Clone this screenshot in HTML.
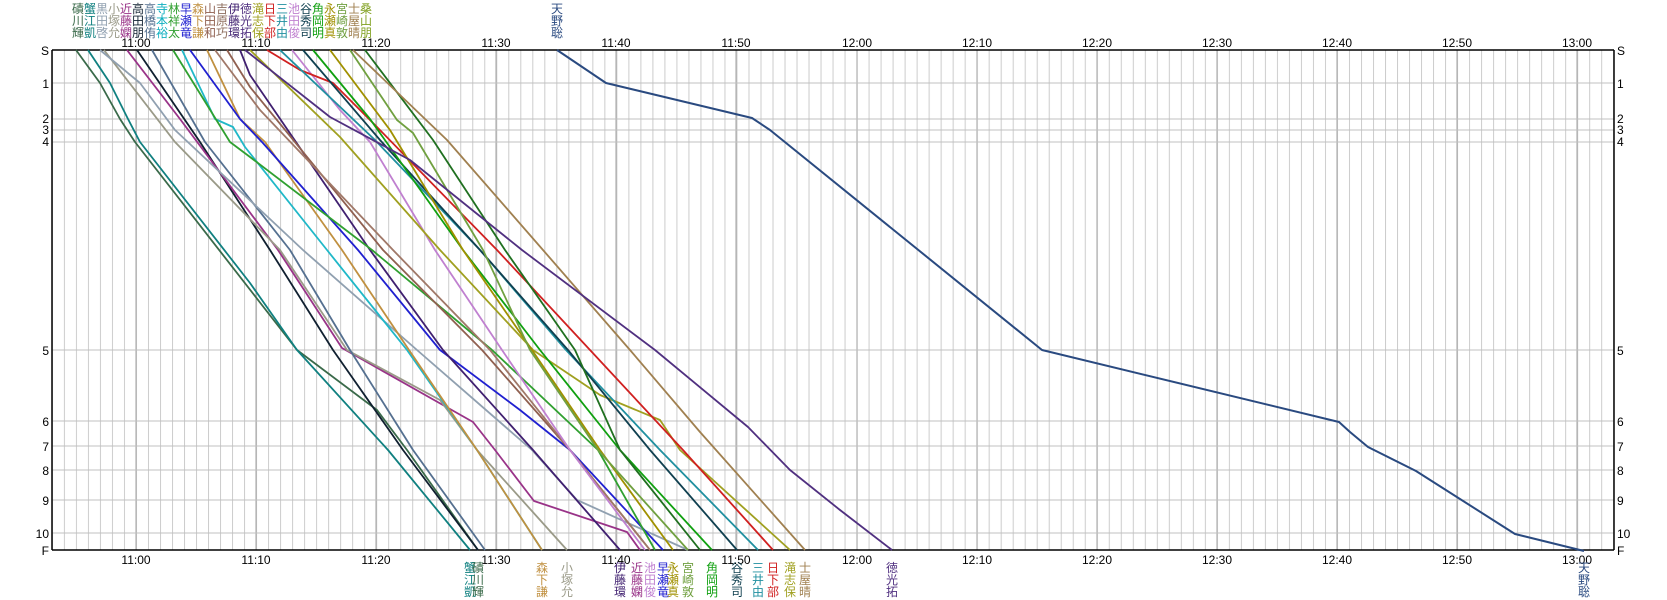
<!DOCTYPE html>
<html><head><meta charset="utf-8"><style>
html,body{margin:0;padding:0;background:#fff;}
svg{display:block;font-family:"Liberation Sans","Noto Sans CJK JP",sans-serif;}
</style></head><body>
<svg width="1667" height="600" viewBox="0 0 1667 600" xmlns="http://www.w3.org/2000/svg">
<defs>
<pattern id="mg" x="51.9" y="0" width="12.01" height="600" patternUnits="userSpaceOnUse">
<line x1="0.5" y1="0" x2="0.5" y2="600" stroke="#cccccc" stroke-width="1"/>
</pattern>
</defs>
<rect x="52" y="50" width="1562" height="500" fill="url(#mg)"/>
<g stroke="#a0a0a0" stroke-width="1">
<line x1="136" y1="50" x2="136" y2="550"/><line x1="256" y1="50" x2="256" y2="550"/><line x1="376" y1="50" x2="376" y2="550"/><line x1="496" y1="50" x2="496" y2="550"/><line x1="616" y1="50" x2="616" y2="550"/><line x1="736" y1="50" x2="736" y2="550"/><line x1="857" y1="50" x2="857" y2="550"/><line x1="977" y1="50" x2="977" y2="550"/><line x1="1097" y1="50" x2="1097" y2="550"/><line x1="1217" y1="50" x2="1217" y2="550"/><line x1="1337" y1="50" x2="1337" y2="550"/><line x1="1457" y1="50" x2="1457" y2="550"/><line x1="1577" y1="50" x2="1577" y2="550"/>
</g>
<g stroke="#c0c0c0" stroke-width="1">
<line x1="52" y1="83" x2="1614" y2="83"/><line x1="52" y1="119" x2="1614" y2="119"/><line x1="52" y1="130" x2="1614" y2="130"/><line x1="52" y1="142" x2="1614" y2="142"/><line x1="52" y1="350" x2="1614" y2="350"/><line x1="52" y1="421" x2="1614" y2="421"/><line x1="52" y1="446" x2="1614" y2="446"/><line x1="52" y1="470" x2="1614" y2="470"/><line x1="52" y1="500" x2="1614" y2="500"/><line x1="52" y1="533" x2="1614" y2="533"/>
</g>
<g stroke="#000" stroke-width="1.5" fill="none">
<line x1="52" y1="50" x2="1614" y2="50"/><line x1="52" y1="550" x2="1614" y2="550"/>
<line x1="52" y1="50" x2="52" y2="550"/><line x1="1614" y1="50" x2="1614" y2="550"/>
</g>
<g font-size="12" fill="#000" text-anchor="end">
<text x="49" y="55">S</text><text x="49" y="88">1</text><text x="49" y="123">2</text><text x="49" y="134">3</text><text x="49" y="146">4</text><text x="49" y="355">5</text><text x="49" y="426">6</text><text x="49" y="451">7</text><text x="49" y="475">8</text><text x="49" y="505">9</text><text x="49" y="538">10</text><text x="49" y="555">F</text>
</g>
<g font-size="12" fill="#000">
<text x="1617" y="55">S</text><text x="1617" y="88">1</text><text x="1617" y="123">2</text><text x="1617" y="134">3</text><text x="1617" y="146">4</text><text x="1617" y="355">5</text><text x="1617" y="426">6</text><text x="1617" y="451">7</text><text x="1617" y="475">8</text><text x="1617" y="505">9</text><text x="1617" y="538">10</text><text x="1617" y="555">F</text>
</g>
<g font-size="12" fill="#000" text-anchor="middle">
<text x="136" y="47">11:00</text><text x="256" y="47">11:10</text><text x="376" y="47">11:20</text><text x="496" y="47">11:30</text><text x="616" y="47">11:40</text><text x="736" y="47">11:50</text><text x="857" y="47">12:00</text><text x="977" y="47">12:10</text><text x="1097" y="47">12:20</text><text x="1217" y="47">12:30</text><text x="1337" y="47">12:40</text><text x="1457" y="47">12:50</text><text x="1577" y="47">13:00</text>
<text x="136" y="564">11:00</text><text x="256" y="564">11:10</text><text x="376" y="564">11:20</text><text x="496" y="564">11:30</text><text x="616" y="564">11:40</text><text x="736" y="564">11:50</text><text x="857" y="564">12:00</text><text x="977" y="564">12:10</text><text x="1097" y="564">12:20</text><text x="1217" y="564">12:30</text><text x="1337" y="564">12:40</text><text x="1457" y="564">12:50</text><text x="1577" y="564">13:00</text>
</g>
<g fill="none" stroke-width="1.8" stroke-linejoin="round">
<polyline stroke="#3a6a4a" points="76,50 100,83 120,119 135,142 297,350 377,410 407,450 478,550"/>
<polyline stroke="#108080" points="88,50 110,83 128,119 140,142 250,283 297,350 388,450 470,550"/>
<polyline stroke="#102030" points="137,50 200,142 270,250 333,350 403,450 478,550"/>
<polyline stroke="#993388" points="127,50 180,119 278,250 342,348 473,422 495,450 534,501 627,532 640,550"/>
<polyline stroke="#9a9a88" points="104,50 175,142 280,250 347,350 440,400 477,450 567,550"/>
<polyline stroke="#557090" points="152,50 205,142 290,250 350,350 413,450 485,550"/>
<polyline stroke="#90a0b0" points="100,50 140,83 175,130 303,250 417,350 532,450 577,500 688,550"/>
<polyline stroke="#20b8c8" points="182,50 215,119 233,127 245,147 327,250 407,350 477,450 542,550"/>
<polyline stroke="#c09040" points="207,50 240,119 265,142 342,250 409,350 477,450 542,550"/>
<polyline stroke="#2020d0" points="190,50 240,119 262,142 358,250 440,350 520,410 570,450 663,550"/>
<polyline stroke="#402070" points="240,50 250,75 370,250 443,350 533,450 620,550"/>
<polyline stroke="#30a030" points="173,50 230,142 250,157 372,250 492,350 598,450 655,550"/>
<polyline stroke="#906050" points="227,50 250,87 383,250 482,350 570,450 650,550"/>
<polyline stroke="#a07868" points="215,50 260,110 393,250 490,350 570,450 650,550"/>
<polyline stroke="#c080d0" points="292,50 340,110 370,142 435,250 502,350 570,450 645,550"/>
<polyline stroke="#a0a020" points="250,50 340,137 440,250 533,350 600,395 660,420 680,450 790,550"/>
<polyline stroke="#d02020" points="267,50 300,70 333,83 375,125 497,250 590,350 683,450 773,550"/>
<polyline stroke="#2090a0" points="280,50 375,140 480,250 566,350 660,450 758,550"/>
<polyline stroke="#104050" points="303,50 380,140 480,250 568,350 650,450 737,550"/>
<polyline stroke="#10a010" points="313,50 370,119 463,250 540,350 620,450 712,550"/>
<polyline stroke="#a09000" points="330,50 390,130 463,250 532,350 600,450 673,550"/>
<polyline stroke="#70a040" points="350,50 397,120 413,133 483,250 530,350 598,450 688,550"/>
<polyline stroke="#207020" points="365,50 433,140 505,250 575,350 620,450 700,550"/>
<polyline stroke="#a08050" points="353,50 447,140 543,250 630,350 700,432 805,550"/>
<polyline stroke="#503080" points="245,50 330,117 410,160 522,250 655,350 748,427 790,470 840,510 892,550"/>
<polyline stroke="#2a4a80" stroke-width="2" points="557,50 606,83 752,118 770,130 1042,350 1339,422 1350,432 1368,447 1416,471 1515,534 1584,551"/>
</g>
<g font-size="12">
<text x="72" y="13" fill="#3a6a4a">磧</text><text x="84" y="13" fill="#108080">蟹</text><text x="96" y="13" fill="#90a0b0">黒</text><text x="108" y="13" fill="#9a9a88">小</text><text x="120" y="13" fill="#993388">近</text><text x="132" y="13" fill="#102030">高</text><text x="144" y="13" fill="#557090">高</text><text x="156" y="13" fill="#10b0c0">寺</text><text x="168" y="13" fill="#30a030">林</text><text x="180" y="13" fill="#2020d0">早</text><text x="192" y="13" fill="#c09040">森</text><text x="204" y="13" fill="#906050">山</text><text x="216" y="13" fill="#907060">吉</text><text x="228" y="13" fill="#402070">伊</text><text x="240" y="13" fill="#503080">徳</text><text x="252" y="13" fill="#a0a020">滝</text><text x="264" y="13" fill="#d02020">日</text><text x="276" y="13" fill="#2090a0">三</text><text x="288" y="13" fill="#c080d0">池</text><text x="300" y="13" fill="#104050">谷</text><text x="312" y="13" fill="#10a010">角</text><text x="324" y="13" fill="#a09000">永</text><text x="336" y="13" fill="#70a040">宮</text><text x="348" y="13" fill="#a08050">士</text><text x="360" y="13" fill="#80a020">桑</text>
<text x="72" y="25" fill="#3a6a4a">川</text><text x="84" y="25" fill="#108080">江</text><text x="96" y="25" fill="#90a0b0">田</text><text x="108" y="25" fill="#9a9a88">塚</text><text x="120" y="25" fill="#993388">藤</text><text x="132" y="25" fill="#102030">田</text><text x="144" y="25" fill="#557090">橋</text><text x="156" y="25" fill="#10b0c0">本</text><text x="168" y="25" fill="#30a030">祥</text><text x="180" y="25" fill="#2020d0">瀬</text><text x="192" y="25" fill="#c09040">下</text><text x="204" y="25" fill="#906050">田</text><text x="216" y="25" fill="#907060">原</text><text x="228" y="25" fill="#402070">藤</text><text x="240" y="25" fill="#503080">光</text><text x="252" y="25" fill="#a0a020">志</text><text x="264" y="25" fill="#d02020">下</text><text x="276" y="25" fill="#2090a0">井</text><text x="288" y="25" fill="#c080d0">田</text><text x="300" y="25" fill="#104050">秀</text><text x="312" y="25" fill="#10a010">岡</text><text x="324" y="25" fill="#a09000">瀬</text><text x="336" y="25" fill="#70a040">崎</text><text x="348" y="25" fill="#a08050">屋</text><text x="360" y="25" fill="#80a020">山</text>
<text x="72" y="37" fill="#3a6a4a">輝</text><text x="84" y="37" fill="#108080">凱</text><text x="96" y="37" fill="#90a0b0">啓</text><text x="108" y="37" fill="#9a9a88">允</text><text x="120" y="37" fill="#993388">嫻</text><text x="132" y="37" fill="#102030">朋</text><text x="144" y="37" fill="#557090">侑</text><text x="156" y="37" fill="#10b0c0">裕</text><text x="168" y="37" fill="#30a030">太</text><text x="180" y="37" fill="#2020d0">竜</text><text x="192" y="37" fill="#c09040">謙</text><text x="204" y="37" fill="#906050">和</text><text x="216" y="37" fill="#907060">巧</text><text x="228" y="37" fill="#402070">環</text><text x="240" y="37" fill="#503080">拓</text><text x="252" y="37" fill="#a0a020">保</text><text x="264" y="37" fill="#d02020">部</text><text x="276" y="37" fill="#2090a0">由</text><text x="288" y="37" fill="#c080d0">俊</text><text x="300" y="37" fill="#104050">司</text><text x="312" y="37" fill="#10a010">明</text><text x="324" y="37" fill="#a09000">真</text><text x="336" y="37" fill="#70a040">敦</text><text x="348" y="37" fill="#a08050">晴</text><text x="360" y="37" fill="#80a020">朋</text>
<g fill="#2a4a80"><text x="551" y="13">天</text><text x="551" y="25">野</text><text x="551" y="37">聡</text></g>
</g>
<g font-size="12">
<g fill="#108080"><text x="464" y="572">蟹</text><text x="464" y="584">江</text><text x="464" y="596">凱</text></g>
<g fill="#3a6a4a"><text x="472" y="572">磧</text><text x="472" y="584">川</text><text x="472" y="596">輝</text></g>
<g fill="#c09040"><text x="536" y="572">森</text><text x="536" y="584">下</text><text x="536" y="596">謙</text></g>
<g fill="#9a9a88"><text x="561" y="572">小</text><text x="561" y="584">塚</text><text x="561" y="596">允</text></g>
<g fill="#402070"><text x="614" y="572">伊</text><text x="614" y="584">藤</text><text x="614" y="596">環</text></g>
<g fill="#993388"><text x="631" y="572">近</text><text x="631" y="584">藤</text><text x="631" y="596">嫻</text></g>
<g fill="#c080d0"><text x="644" y="572">池</text><text x="644" y="584">田</text><text x="644" y="596">俊</text></g>
<g fill="#2020d0"><text x="657" y="572">早</text><text x="657" y="584">瀬</text><text x="657" y="596">竜</text></g>
<g fill="#a09000"><text x="667" y="572">永</text><text x="667" y="584">瀬</text><text x="667" y="596">真</text></g>
<g fill="#70a040"><text x="682" y="572">宮</text><text x="682" y="584">崎</text><text x="682" y="596">敦</text></g>
<g fill="#10a010"><text x="706" y="572">角</text><text x="706" y="584">岡</text><text x="706" y="596">明</text></g>
<g fill="#104050"><text x="731" y="572">谷</text><text x="731" y="584">秀</text><text x="731" y="596">司</text></g>
<g fill="#2090a0"><text x="752" y="572">三</text><text x="752" y="584">井</text><text x="752" y="596">由</text></g>
<g fill="#d02020"><text x="767" y="572">日</text><text x="767" y="584">下</text><text x="767" y="596">部</text></g>
<g fill="#a0a020"><text x="784" y="572">滝</text><text x="784" y="584">志</text><text x="784" y="596">保</text></g>
<g fill="#a08050"><text x="799" y="572">士</text><text x="799" y="584">屋</text><text x="799" y="596">晴</text></g>
<g fill="#503080"><text x="886" y="572">徳</text><text x="886" y="584">光</text><text x="886" y="596">拓</text></g>
<g fill="#2a4a80"><text x="1578" y="572">天</text><text x="1578" y="584">野</text><text x="1578" y="596">聡</text></g>
</g>
</svg>
</body></html>
